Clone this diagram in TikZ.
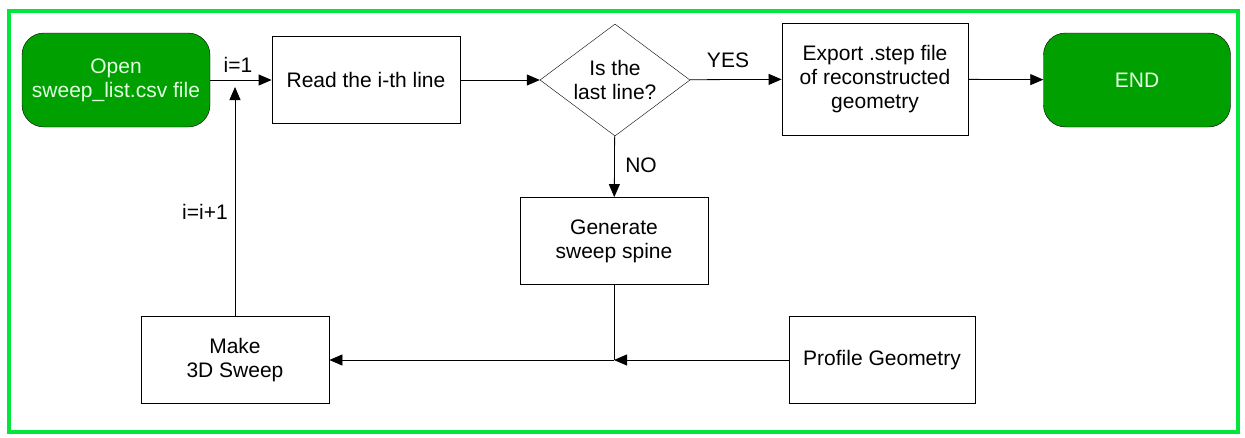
\documentclass[tikz,border=0pt]{standalone}
\usepackage{fontspec}
\setmainfont{Liberation Sans}
\usetikzlibrary{shapes.geometric,arrows.meta}
\definecolor{termgreen}{RGB}{0,160,0}
\definecolor{framegreen}{RGB}{0,230,60}
\definecolor{termtext}{RGB}{225,255,225}
\begin{document}
\begin{tikzpicture}[x=1pt,y=-1pt,font=\fontsize{21}{24}\selectfont]
% Styles
\tikzset{green terminal/.style={rectangle,rounded corners=22pt,draw,fill=termgreen,text=termtext,minimum width=188pt,minimum height=94pt,inner sep=0pt,align=center},
  plain box/.style={rectangle,draw,thick,fill=white,minimum width=188pt,minimum height=87pt,inner sep=0pt,align=center},
  decision diamond/.style={diamond,draw,minimum width=150pt,minimum height=112pt,aspect=1.34,inner sep=0pt,align=center},
  flow arrow/.style={-{Triangle[length=13pt,width=11pt]},thick}}

\useasboundingbox (0,0) rectangle (1245,437);
\draw[framegreen,line width=4pt] (9,11) rectangle (1238,432);

% Nodes
  \node[green terminal] (open) at (116,80) {Open\\sweep\_list.csv file};
  \node[plain box] (read) at (366,80) {Read the i-th line};
  \node[decision diamond] (last) at (615,80) {Is the\\last line?};
  \node[plain box,minimum width=186pt,minimum height=112pt] (export) at (875,79) {Export .step file\\of reconstructed\\geometry};
  \node[green terminal,minimum width=187pt] (end) at (1137,80) {END};
  \node[plain box] (spine) at (614,241) {Generate\\sweep spine};
  \node[plain box] (sweep) at (235,360) {Make\\3D Sweep};
  \node[plain box,minimum width=186pt] (profile) at (882,360) {Profile Geometry};
  \coordinate (join) at (spine.south |- sweep.east);
  \coordinate (loop) at (235,87);

% Connectors
\draw[flow arrow] (open) -- (read);
\draw[flow arrow] (read) -- (last);
\draw[flow arrow] (last) -- (export);
\draw[flow arrow] (export) -- (end);
\draw[flow arrow] (last) -- (spine);
\draw[thick] (spine) -- (join);
\draw[flow arrow] (profile) -- (join);
\draw[flow arrow] (join) -- (sweep);
\draw[flow arrow] (sweep) -- (loop);

% Labels
\node at (238,65) {i=1};
\node at (728,60) {YES};
\node at (641,165) {NO};
\node at (205,212) {i=i+1};
\end{tikzpicture}
\end{document}
